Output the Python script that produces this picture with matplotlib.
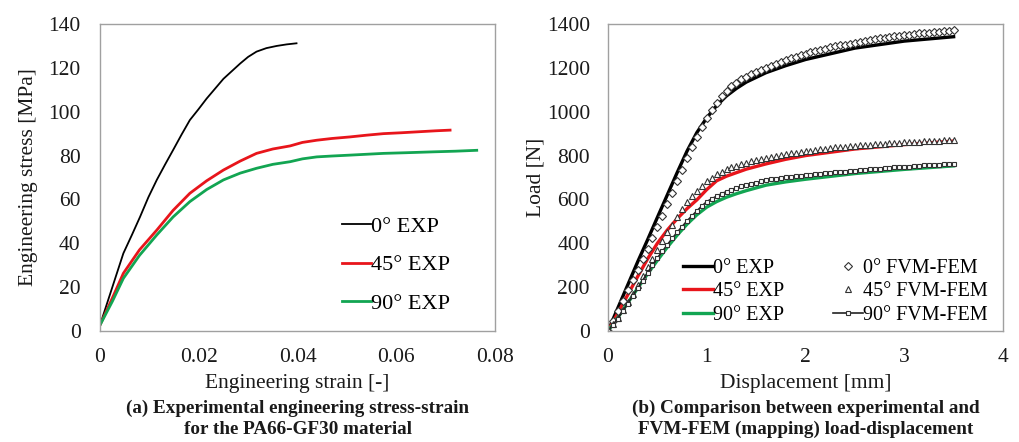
import matplotlib
matplotlib.use("Agg")
import matplotlib.pyplot as plt
import numpy as np

plt.rcParams['font.family'] = ['Liberation Serif', 'DejaVu Serif']

# ---------------- Left chart data (strain [-], stress [MPa]) ----------------
strain_0 = [0, 0.0025, 0.00473, 0.0065, 0.0081, 0.0098, 0.0115, 0.0132, 0.0148, 0.0165, 0.0182, 0.0199,
            0.0216, 0.0233, 0.025, 0.0267, 0.0284, 0.030, 0.0317, 0.0337, 0.0358, 0.0378, 0.0398]
stress_0 = [2.7, 20, 35.4, 44, 52, 61, 68.9, 76, 82.5, 89.5, 96.2, 101, 106, 110.5, 115, 118.5, 122, 125,
            127.4, 129, 130, 130.7, 131.2]
strain_45 = [0, 0.0025, 0.00473, 0.008, 0.0115, 0.0148, 0.0182, 0.0216, 0.025, 0.0284, 0.0317, 0.035,
             0.0385, 0.041, 0.0439, 0.047, 0.0506, 0.054, 0.0574, 0.061, 0.0641, 0.068, 0.0709]
stress_45 = [2.7, 15, 26.3, 37, 46, 55, 62.8, 68.5, 73.4, 77.5, 81, 83, 84.4, 86, 87, 87.8, 88.5, 89.3,
             90, 90.4, 90.8, 91.3, 91.6]
strain_90 = [0, 0.0025, 0.00473, 0.008, 0.0115, 0.0148, 0.0182, 0.0216, 0.025, 0.0284, 0.0317, 0.035,
             0.0385, 0.041, 0.0439, 0.047, 0.0506, 0.054, 0.0574, 0.062, 0.0675, 0.072, 0.0763]
stress_90 = [2.7, 13.5, 24, 34.5, 43.8, 52, 59, 64.5, 68.9, 72, 74.2, 76, 77.2, 78.5, 79.4, 79.8, 80.2,
             80.6, 81, 81.3, 81.7, 82, 82.4]

# ---------------- Right chart data (displacement [mm], load [N]) ----------------
disp_exp = [0, 0.1, 0.2, 0.3, 0.4, 0.5, 0.6, 0.7, 0.8, 0.9, 1.0, 1.1, 1.2, 1.3, 1.4, 1.6, 1.8, 2.0, 2.5, 3.0, 3.5]
load_0_exp = [0, 105, 210, 315, 415, 518, 620, 722, 820, 905, 972, 1028, 1072, 1106, 1135, 1178, 1210, 1238,
              1290, 1322, 1342]
load_45_exp = [0, 82, 165, 248, 328, 400, 460, 512, 558, 598, 645, 685, 706, 722, 738, 762, 783, 800, 830,
               850, 866]
load_90_exp = [0, 62, 128, 195, 260, 322, 382, 437, 487, 530, 565, 590, 610, 626, 640, 665, 680, 692, 718,
               737, 753]

disp_fem = [0.00, 0.05, 0.10, 0.15, 0.20, 0.25, 0.30, 0.35, 0.40, 0.45, 0.50, 0.55, 0.60, 0.65, 0.70,
            0.75, 0.80, 0.85, 0.90, 0.95, 1.00, 1.05, 1.10, 1.15, 1.20, 1.25, 1.30, 1.35, 1.40, 1.45,
            1.50, 1.55, 1.60, 1.65, 1.70, 1.75, 1.80, 1.85, 1.90, 1.95, 2.00, 2.05, 2.10, 2.15, 2.20,
            2.25, 2.30, 2.35, 2.40, 2.45, 2.50, 2.55, 2.60, 2.65, 2.70, 2.75, 2.80, 2.85, 2.90, 2.95,
            3.00, 3.05, 3.10, 3.15, 3.20, 3.25, 3.30, 3.35, 3.40, 3.45, 3.50]
load_0_fem = [0, 45, 92, 138, 185, 232, 280, 328, 375, 425, 475, 525, 577, 630, 683,
              736, 788, 838, 885, 930, 972, 1010, 1042, 1070, 1095, 1115, 1132, 1147, 1160, 1171,
              1181, 1191, 1200, 1209, 1218, 1227, 1235, 1243, 1251, 1258, 1265, 1271, 1277, 1283, 1288,
              1293, 1298, 1302, 1306, 1311, 1315, 1319, 1323, 1327, 1330, 1334, 1337, 1341, 1344, 1347,
              1350, 1352, 1355, 1357, 1359, 1361, 1363, 1365, 1367, 1369, 1371]
load_45_fem = [0, 30, 60, 95, 130, 170, 210, 250, 290, 330, 370, 410, 450, 485, 520,
               555, 590, 615, 640, 662, 684, 700, 714, 727, 738, 746, 754, 762, 768, 773,
               778, 783, 787, 792, 797, 802, 806, 810, 814, 817, 820, 823, 826, 829, 832,
               835, 837, 839, 841, 843, 845, 847, 848, 850, 851, 853, 854, 856, 857, 858,
               860, 861, 862, 863, 865, 866, 867, 868, 869, 870, 872]
load_90_fem = [0, 28, 57, 90, 125, 160, 195, 230, 265, 300, 333, 363, 393, 422, 450,
               476, 502, 525, 548, 570, 590, 603, 615, 626, 636, 645, 653, 660, 666, 672,
               677, 682, 687, 691, 695, 698, 701, 704, 706, 709, 711, 713, 715, 717, 719,
               721, 723, 725, 727, 729, 731, 733, 735, 737, 739, 740, 742, 744, 746, 747,
               749, 750, 752, 753, 755, 756, 757, 759, 760, 761, 762]

RED = '#e8151b'
GREEN = '#12a552'
SPINE = '#a0a0a0'
FS = 15.5
TXT = '#1a1a1a'

fig = plt.figure(figsize=(10.19, 4.42), dpi=100)
axL = fig.add_axes([100/1019, 1-331/442, 395/1019, 307/442])
axR = fig.add_axes([608/1019, 1-331/442, 395/1019, 307/442])

def style(ax, ypad):
    for s in ax.spines.values():
        s.set_color(SPINE)
        s.set_linewidth(1.0)
    ax.tick_params(length=0, labelsize=FS, colors=TXT)
    ax.tick_params(axis='x', pad=12)
    ax.tick_params(axis='y', pad=ypad)

# Left
axL.plot(strain_0, stress_0, color='black', lw=1.3, label='0° EXP')
axL.plot(strain_45, stress_45, color=RED, lw=2.0, label='45° EXP')
axL.plot(strain_90, stress_90, color=GREEN, lw=2.0, label='90° EXP')
axL.set_xlim(0, 0.08)
axL.set_ylim(0, 140)
axL.set_xticks([0, 0.02, 0.04, 0.06, 0.08])
axL.set_xticklabels(['0', '0.02', '0.04', '0.06', '0.08'])
axL.set_yticks(np.arange(0, 141, 20))
style(axL, 14)
axL.set_xlabel('Engineering strain [-]', fontsize=FS, labelpad=5, color=TXT)
axL.set_ylabel('Engineering stress [MPa]', fontsize=FS, labelpad=7, color=TXT)
axL.legend(loc='lower left', bbox_to_anchor=(0.613, 0.055), frameon=False, fontsize=16,
           handlelength=1.3, handletextpad=0.0, labelspacing=0.82, borderpad=0, borderaxespad=0)
fig.text((100 + 495) / 2 / 1019, 1 - 419/442,
         '(a) Experimental engineering stress-strain\nfor the PA66-GF30 material',
         ha='center', va='center', fontsize=13.8, fontweight='bold', linespacing=1.3, color=TXT)

# Right
axR.plot(disp_exp, load_0_exp, color='black', lw=2.4, label='0° EXP')
axR.plot(disp_exp, load_45_exp, color=RED, lw=2.4, label='45° EXP')
axR.plot(disp_exp, load_90_exp, color=GREEN, lw=2.4, label='90° EXP')
axR.plot(disp_fem, load_0_fem, ls='none', marker='D', ms=3.6, mfc='white', mec='#333333', mew=0.8,
         label='0° FVM-FEM')
axR.plot(disp_fem, load_45_fem, ls='none', marker='^', ms=4.2, mfc='white', mec='#333333', mew=0.8,
         label='45° FVM-FEM')
axR.plot(disp_fem, load_90_fem, color='#222222', lw=1.2, marker='s', ms=3.2, mfc='white', mec='#333333',
         mew=0.8, label='90° FVM-FEM')
axR.set_xlim(0, 4)
axR.set_ylim(0, 1400)
axR.set_xticks([0, 1, 2, 3, 4])
axR.set_yticks(np.arange(0, 1401, 200))
style(axR, 13)
axR.set_xlabel('Displacement [mm]', fontsize=FS, labelpad=5, color=TXT)
axR.set_ylabel('Load [N]', fontsize=FS, labelpad=1, color=TXT)
axR.legend(loc='lower left', bbox_to_anchor=(0.19, 0.02), ncol=2, frameon=False, fontsize=14.5,
           handlelength=1.5, handletextpad=0.0, labelspacing=0.22, columnspacing=2.4,
           borderpad=0, borderaxespad=0)
fig.text((608 + 1003) / 2 / 1019, 1 - 419/442,
         '(b) Comparison between experimental and\nFVM-FEM (mapping) load-displacement',
         ha='center', va='center', fontsize=13.8, fontweight='bold', linespacing=1.3, color=TXT)

fig.savefig('out.png', dpi=100)
